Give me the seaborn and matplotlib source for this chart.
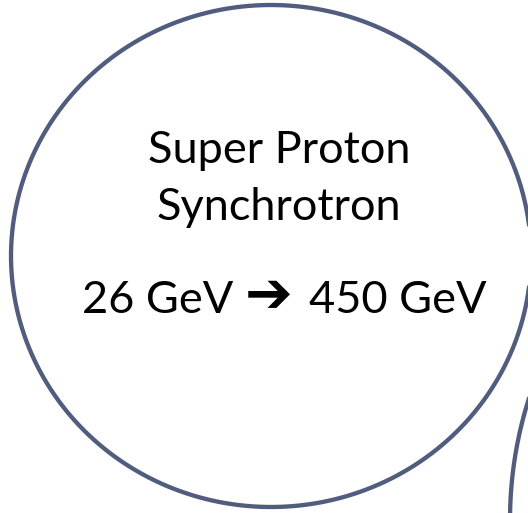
import matplotlib
matplotlib.use("Agg")
import matplotlib.pyplot as plt
import seaborn as sns
import numpy as np
import pandas as pd

# ring outlines (pixel space of the slide): centre x, centre y, half width, half height
ring_names = ["SPS", "LHC"]
ring_cx = [271, 910]
ring_cy = [256, 520]
ring_rx = [260, 400]
ring_ry = [251, 400]

title_lines = ["Super Proton", "Synchrotron"]
energy_from = "26 GeV"
energy_to = "450 GeV"
arrow = "\u2794"

EDGE = "#525C7E"

sns.set_theme(style="white")
plt.rcParams["font.family"] = ["Lato", "DejaVu Sans"]

fig = plt.figure(figsize=(5.28, 5.13), dpi=100)
ax = fig.add_axes([0, 0, 1, 1])

t = np.linspace(0, 2 * np.pi, 721)
frames = []
for name, cx, cy, rx, ry in zip(ring_names, ring_cx, ring_cy, ring_rx, ring_ry):
    frames.append(pd.DataFrame({"x": cx + rx * np.cos(t), "y": cy + ry * np.sin(t),
                                "ring": name, "order": np.arange(len(t))}))
rings = pd.concat(frames, ignore_index=True)

sns.lineplot(data=rings, x="x", y="y", units="ring", estimator=None, sort=False,
             color=EDGE, linewidth=3.1, ax=ax, legend=False)

fs = 32.5
ax.text(279, 163, title_lines[0], ha="center", va="baseline", fontsize=fs, color="black")
ax.text(279, 220, title_lines[1], ha="center", va="baseline", fontsize=fs, color="black")
ax.text(233, 313, energy_from, ha="right", va="baseline", fontsize=fs, color="black")
ax.text(269, 297, arrow, ha="center", va="center", fontsize=41, fontweight="bold",
        family="DejaVu Sans", color="black")
ax.text(309, 313, energy_to, ha="left", va="baseline", fontsize=fs, color="black")

ax.set_xlim(0, 528)
ax.set_ylim(513, 0)
ax.set_axis_off()

fig.savefig("out.png", dpi=100, facecolor="white")
